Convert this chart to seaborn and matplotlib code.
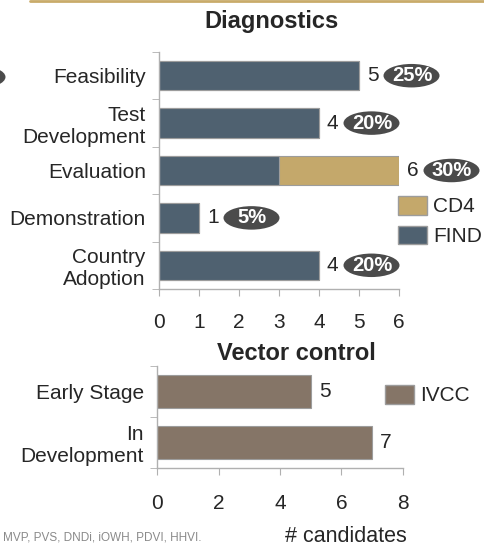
import matplotlib
matplotlib.use('Agg')
import matplotlib.pyplot as plt
import matplotlib.transforms as mtransforms
from matplotlib.patches import Ellipse, Patch
from matplotlib.lines import Line2D
import seaborn as sns
import pandas as pd

# diagnostics data
diag_stages = ['Feasibility', 'Test\nDevelopment', 'Evaluation', 'Demonstration', 'Country\nAdoption']
find_counts = [5, 4, 3, 1, 4]
cd4_counts = [0, 0, 3, 0, 0]
diag_pct = ['25%', '20%', '30%', '5%', '20%']

# vector control data
vc_stages = ['Early Stage', 'In\nDevelopment']
ivcc_counts = [5, 7]

source_note = 'MVP, PVS, DNDi, iOWH, PDVI, HHVI.'

FIND_COL = '#4f6170'
CD4_COL = '#c4a86b'
IVCC_COL = '#857567'
BUBBLE = '#4b4b4b'
SPINE = '#b0b0b0'

sns.set_style('white')
plt.rcParams['font.family'] = ['Liberation Sans', 'DejaVu Sans']

W, H = 485, 546
fig = plt.figure(figsize=(W / 100, H / 100), dpi=100)


def fig_rect(x0, x1, ytop, ybot):
    return [x0 / W, 1 - ybot / H, (x1 - x0) / W, (ybot - ytop) / H]


def style_axes(ax, n, xpad):
    sns.despine(ax=ax)
    for s in ['left', 'bottom']:
        ax.spines[s].set_color(SPINE)
        ax.spines[s].set_linewidth(1.0)
    ax.set_ylim(n - 0.5, -0.5)
    ax.set_yticks([i - 0.5 for i in range(n + 1)], minor=True)
    ax.tick_params(axis='y', which='major', length=0, pad=9.5, labelsize=15)
    ax.tick_params(axis='y', which='minor', length=5, color=SPINE, direction='out', left=True)
    ax.tick_params(axis='x', length=5, color=SPINE, direction='out', pad=xpad, labelsize=15, bottom=True)
    ax.set_xlabel('')
    ax.set_ylabel('')
    ax.grid(False)


# ---- Diagnostics ----
ax1 = fig.add_axes(fig_rect(159, 399, 52, 289))
diag = pd.DataFrame({'stage': diag_stages,
                     'total': [f + c for f, c in zip(find_counts, cd4_counts)],
                     'find': find_counts})
sns.barplot(data=diag, x='total', y='stage', color=CD4_COL, saturation=1, width=0.62,
            edgecolor='#9c9c9c', linewidth=0.8, ax=ax1)
sns.barplot(data=diag, x='find', y='stage', color=FIND_COL, saturation=1, width=0.62,
            edgecolor='#9c9c9c', linewidth=0.8, ax=ax1)
ax1.set_xlim(0, 6)
ax1.set_xticks(range(0, 7))
style_axes(ax1, len(diag_stages), 12)

for i, (tot, pct) in enumerate(zip(diag['total'], diag_pct)):
    ax1.annotate(str(tot), (tot, i), xytext=(8, 0), textcoords='offset pixels',
                 ha='left', va='center', fontsize=15, annotation_clip=False)
    tr = fig.dpi_scale_trans + mtransforms.ScaledTranslation(tot, i, ax1.transData)
    ax1.add_patch(Ellipse((0.525, 0), 0.56, 0.235, transform=tr, facecolor=BUBBLE,
                          edgecolor='none', clip_on=False))
    ax1.annotate(pct, (tot, i), xytext=(53, 0), textcoords='offset pixels',
                 ha='center', va='center', fontsize=14.5, fontweight='bold', color='white',
                 annotation_clip=False)

fig.text(272 / W, 1 - 28 / H, 'Diagnostics', ha='center', va='baseline',
         fontsize=17, fontweight='bold')
fig.legend(handles=[Patch(facecolor=CD4_COL, edgecolor='#9c9c9c', label='CD4'),
                    Patch(facecolor=FIND_COL, edgecolor='#9c9c9c', label='FIND')],
           loc='upper left', bbox_to_anchor=(398 / W, 1 - 196 / H), frameon=False,
           fontsize=15, handlelength=1.4, handleheight=1.0, handletextpad=0.3,
           labelspacing=0.45, borderpad=0, borderaxespad=0)

# ---- Vector control ----
ax2 = fig.add_axes(fig_rect(157, 403, 366, 468))
vc = pd.DataFrame({'stage': vc_stages, 'ivcc': ivcc_counts})
sns.barplot(data=vc, x='ivcc', y='stage', color=IVCC_COL, saturation=1, width=0.63,
            edgecolor='#9c9c9c', linewidth=0.8, ax=ax2)
ax2.set_xlim(0, 8)
ax2.set_xticks(range(0, 9, 2))
style_axes(ax2, len(vc_stages), 14)
for i, v in enumerate(ivcc_counts):
    ax2.annotate(str(v), (v, i), xytext=(8, 0), textcoords='offset pixels',
                 ha='left', va='center', fontsize=15, annotation_clip=False)

fig.text(296 / W, 1 - 360 / H, 'Vector control', ha='center', va='baseline',
         fontsize=17, fontweight='bold')
fig.legend(handles=[Patch(facecolor=IVCC_COL, edgecolor='#9c9c9c', label='IVCC')],
           loc='upper left', bbox_to_anchor=(385 / W, 1 - 385 / H), frameon=False,
           fontsize=15, handlelength=1.4, handleheight=1.0, handletextpad=0.3,
           borderpad=0, borderaxespad=0)

fig.text(346 / W, 1 - 537 / H, '# candidates', ha='center', va='center', fontsize=15.5)
fig.text(3 / W, 1 - 538 / H, source_note, ha='left', va='center', fontsize=8.5, color='#8a8a8a')

# decorations: gold rule and a cut-off bubble at the left edge
fig.add_artist(Line2D([30 / W, 1], [1 - 1 / H, 1 - 1 / H], color='#c9ab6a', linewidth=2))
fig.add_artist(Ellipse((-0.225, (H - 77) / 100), 0.56, 0.23, transform=fig.dpi_scale_trans,
                       facecolor=BUBBLE, edgecolor='none'))

fig.savefig('out.png', dpi=100)
